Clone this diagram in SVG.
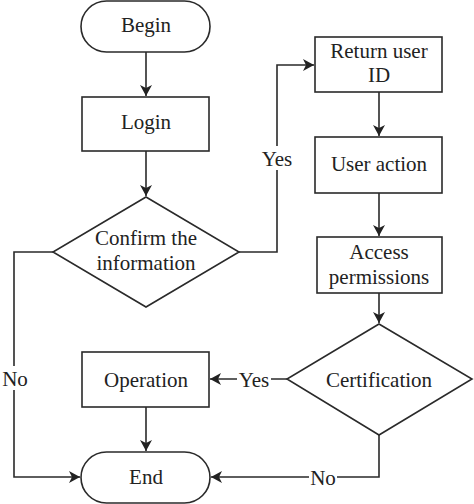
<svg xmlns="http://www.w3.org/2000/svg" width="474" height="504" viewBox="0 0 474 504">
<defs>
<marker id="a" markerWidth="12" markerHeight="12" refX="11" refY="6" orient="auto" markerUnits="userSpaceOnUse">
<path d="M0,0 L11,6 L0,12 L3,6 Z" fill="#222"/>
</marker>
</defs>
<rect width="474" height="504" fill="#fff"/>
<g id="connectors" fill="none" stroke="#2a2a2a" stroke-width="1.6">
<path d="M146,52 V96" marker-end="url(#a)"/>
<path d="M146,151 V196" marker-end="url(#a)"/>
<path d="M239,252 H277 V65 H314" marker-end="url(#a)"/>
<path d="M53,252 H14 V477 H80" marker-end="url(#a)"/>
<path d="M379,92 V136" marker-end="url(#a)"/>
<path d="M379,193 V236" marker-end="url(#a)"/>
<path d="M379,293 V323" marker-end="url(#a)"/>
<path d="M287,379 H210" marker-end="url(#a)"/>
<path d="M146,407 V451" marker-end="url(#a)"/>
<path d="M379,435 V477 H211" marker-end="url(#a)"/>
</g>
<g id="labels" font-family="Times New Roman" font-size="21" fill="#222" text-anchor="middle">
<rect fill="#fff" x="262" y="146" width="30" height="24"/>
<text x="277" y="166">Yes</text>
<rect fill="#fff" x="2" y="366" width="26" height="24"/>
<text x="15" y="386">No</text>
<rect fill="#fff" x="237" y="368" width="34" height="24"/>
<text x="254" y="387">Yes</text>
<rect fill="#fff" x="309" y="466" width="28" height="24"/>
<text x="323" y="485">No</text>
</g>
<g id="nodes" font-family="Times New Roman" font-size="21" text-anchor="middle">
<g id="begin">
<rect fill="#fff" stroke="#2a2a2a" stroke-width="1.6" x="81" y="1" width="129" height="51" rx="25.5"/>
<text fill="#222" x="146" y="32">Begin</text>
</g>
<g id="login">
<rect fill="#fff" stroke="#2a2a2a" stroke-width="1.6" x="82" y="97" width="127" height="54"/>
<text fill="#222" x="146" y="129">Login</text>
</g>
<g id="confirm">
<polygon fill="#fff" stroke="#2a2a2a" stroke-width="1.6" points="146,197 239,252 146,307 53,252"/>
<text fill="#222" x="146" y="245">Confirm the</text>
<text fill="#222" x="146" y="270">information</text>
</g>
<g id="return">
<rect fill="#fff" stroke="#2a2a2a" stroke-width="1.6" x="315" y="37" width="127" height="55"/>
<text fill="#222" x="379" y="58">Return user</text>
<text fill="#222" x="379" y="82">ID</text>
</g>
<g id="useraction">
<rect fill="#fff" stroke="#2a2a2a" stroke-width="1.6" x="315" y="137" width="127" height="56"/>
<text fill="#222" x="379" y="171">User action</text>
</g>
<g id="access">
<rect fill="#fff" stroke="#2a2a2a" stroke-width="1.6" x="317" y="237" width="125" height="56"/>
<text fill="#222" x="379" y="259">Access</text>
<text fill="#222" x="379" y="284">permissions</text>
</g>
<g id="certification">
<polygon fill="#fff" stroke="#2a2a2a" stroke-width="1.6" points="379,324 472,379 379,435 287,379"/>
<text fill="#222" x="379" y="387">Certification</text>
</g>
<g id="operation">
<rect fill="#fff" stroke="#2a2a2a" stroke-width="1.6" x="82" y="352" width="127" height="55"/>
<text fill="#222" x="146" y="387">Operation</text>
</g>
<g id="end">
<rect fill="#fff" stroke="#2a2a2a" stroke-width="1.6" x="81" y="452" width="129" height="51" rx="25.5"/>
<text fill="#222" x="146" y="484">End</text>
</g>
</g>
</svg>
